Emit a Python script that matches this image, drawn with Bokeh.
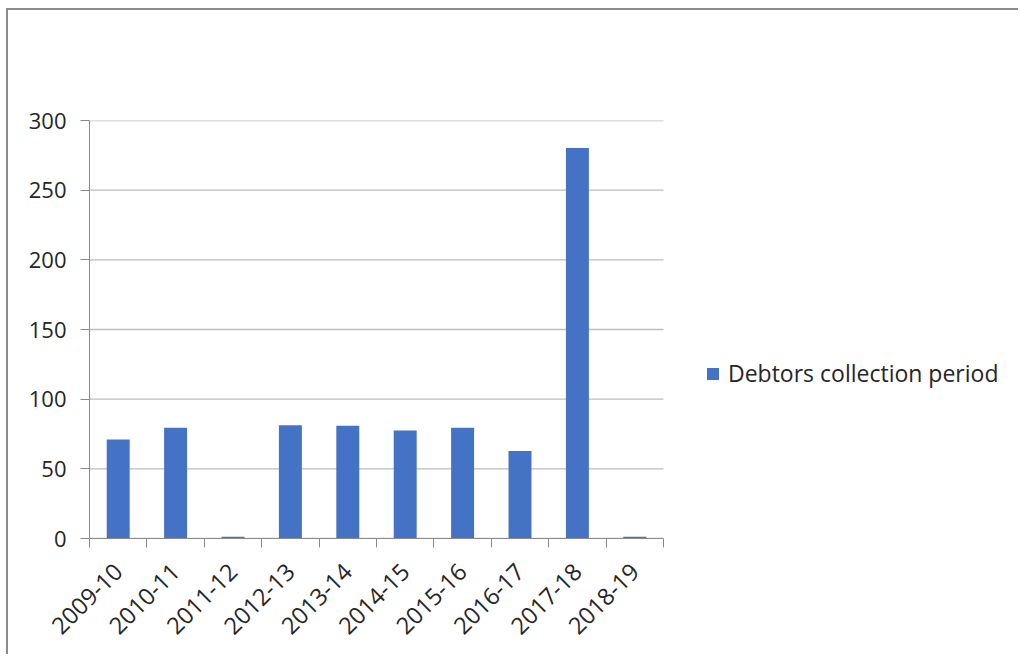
import math
from bokeh.plotting import figure
from bokeh.models import (ColumnDataSource, Range1d, LinearAxis,
                          FixedTicker, Legend, LegendItem)
from bokeh.embed import file_html
from bokeh.resources import INLINE

# ---- data ----
years = ["2009-10", "2010-11", "2011-12", "2012-13", "2013-14",
         "2014-15", "2015-16", "2016-17", "2017-18", "2018-19"]
debtors_days = [71, 79.5, 1.2, 81.3, 81, 77.6, 79.4, 62.8, 280.2, 1.2]
y_ticks = [0, 50, 100, 150, 200, 250, 300]
series_name = "Debtors collection period"

FONT = "Open Sans"
BAR = "#4472C4"
GRID = "#bdbdbd"
AXIS = "#8a8a8a"
TEXT = "#262626"

n = len(years)
centers = [i + 0.5 for i in range(n)]
src = ColumnDataSource(dict(x=centers, y=debtors_days, name=years))

# layout: figure 1012 wide, frame starts 81px in; plot region 574px wide,
# frame extended to the right so the legend (drawn in the frame) is not clipped
W, H = 1012, 646
LEFT, RIGHT = 81, 2
PLOT_W = 574
frame_w = W - LEFT - RIGHT
x_end = n * frame_w / PLOT_W

p = figure(width=W, height=H, x_range=Range1d(0, x_end),
           y_range=Range1d(0, 300), output_backend="svg", toolbar_location=None,
           x_axis_location=None, y_axis_location=None,
           min_border_left=LEFT, min_border_right=RIGHT, min_border_top=110, min_border_bottom=118)
p.outline_line_color = None
p.background_fill_color = "white"
p.border_fill_color = "white"
p.styles = {"margin-left": "6px", "margin-top": "8px",
            "border-left": "2px solid #8c8c8c", "border-top": "2px solid #8c8c8c"}

# horizontal gridlines limited to the category span
grid_src = ColumnDataSource(dict(x0=[0] * len(y_ticks), x1=[n] * len(y_ticks),
                                 y=y_ticks))
p.segment(x0="x0", y0="y", x1="x1", y1="y", source=grid_src,
          line_color=GRID, line_width=1.3)

r = p.vbar(x="x", top="y", width=0.4, source=src, fill_color=BAR, line_color=None)

# y axis
ya = LinearAxis(ticker=FixedTicker(ticks=y_ticks))
ya.axis_line_color = AXIS
ya.major_tick_line_color = AXIS
ya.major_tick_out = 9
ya.major_tick_in = 0
ya.minor_tick_line_color = None
ya.major_label_text_font = FONT
ya.major_label_text_font_size = "22px"
ya.major_label_text_color = TEXT
ya.major_label_standoff = 14
p.add_layout(ya, "left")

# x axis: labels at bar centres, minor ticks at category boundaries
cx = LinearAxis(ticker=FixedTicker(ticks=centers, minor_ticks=list(range(n + 1))),
                major_label_overrides={c: y for c, y in zip(centers, years)},
                bounds=(0, n))
cx.axis_line_color = AXIS
cx.major_tick_line_color = None
cx.major_tick_out = 9
cx.major_tick_in = 0
cx.minor_tick_line_color = AXIS
cx.minor_tick_out = 9
cx.minor_tick_in = 0
cx.major_label_orientation = math.pi / 4
cx.major_label_text_font = FONT
cx.major_label_text_font_size = "23.5px"
cx.major_label_text_color = TEXT
cx.major_label_standoff = 20
p.add_layout(cx, "below")

p.xgrid.grid_line_color = None
p.ygrid.grid_line_color = None

legend = Legend(items=[LegendItem(label=series_name, renderers=[r])],
                location=(616, 149), glyph_width=15, glyph_height=15, label_standoff=8,
                padding=0, margin=0, border_line_color=None, background_fill_alpha=0,
                label_text_font=FONT, label_text_font_size="23px", label_text_color=TEXT)
p.add_layout(legend, "center")

open("out.html", "w").write(file_html(p, INLINE))
